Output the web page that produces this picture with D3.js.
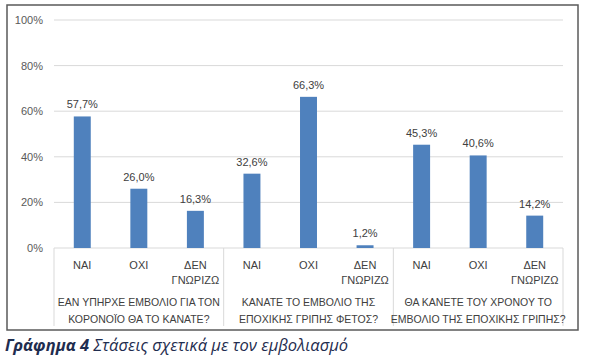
<!DOCTYPE html>
<html><head><meta charset="utf-8">
<script src="https://cdn.jsdelivr.net/npm/d3@7"></script>
<style>body{margin:0;background:#fff;}svg{display:block;}</style>
</head><body>
<script>
const groups = [
  ["ΕΑΝ ΥΠΗΡΧΕ ΕΜΒΟΛΙΟ ΓΙΑ ΤΟΝ", "ΚΟΡΟΝΟΪΟ ΘΑ ΤΟ ΚΑΝΑΤΕ?"],
  ["ΚΑΝΑΤΕ ΤΟ ΕΜΒΟΛΙΟ ΤΗΣ", "ΕΠΟΧΙΚΗΣ ΓΡΙΠΗΣ ΦΕΤΟΣ?"],
  ["ΘΑ ΚΑΝΕΤΕ ΤΟΥ ΧΡΟΝΟΥ ΤΟ", "ΕΜΒΟΛΙΟ ΤΗΣ ΕΠΟΧΙΚΗΣ ΓΡΙΠΗΣ?"]
];
const answers = [["ΝΑΙ"], ["ΟΧΙ"], ["ΔΕΝ", "ΓΝΩΡΙΖΩ"]];
const values = [57.7, 26.0, 16.3, 32.6, 66.3, 1.2, 45.3, 40.6, 14.2];
const yTicks = [0, 20, 40, 60, 80, 100];
const captionBold = "Γράφημα 4";
const captionText = " Στάσεις σχετικά με τον εμβολιασμό";

(function () {
const W = 596, H = 359;
const svg = d3.select("body").append("svg").attr("width", W).attr("height", H);
const font = "'Liberation Sans', Arial, sans-serif";

svg.append("rect").attr("x", 7).attr("y", 5).attr("width", 571).attr("height", 325)
  .attr("fill", "#fff").attr("stroke", "#5a5a5a").attr("stroke-width", 1.5);

const pl = 54, pr = 563, pt = 20, pb = 248;
const keys = d3.range(values.length);
const x = d3.scaleBand().domain(keys).range([pl, pr]).paddingInner(0.7).paddingOuter(0.35);
const xFull = d3.scaleBand().domain(keys).range([pl, pr]);
const y = d3.scaleLinear().domain([0, 100]).range([pb, pt]);

svg.append("g").selectAll("line").data(yTicks).join("line")
  .attr("x1", pl).attr("x2", pr).attr("y1", d => y(d)).attr("y2", d => y(d))
  .attr("stroke", "#d9d9d9").attr("stroke-width", 1);

const yAxis = d3.axisLeft(y).tickValues(yTicks).tickFormat(d => d + "%").tickSize(0).tickPadding(11);
const gy = svg.append("g").attr("transform", `translate(${pl},0)`).call(yAxis);
gy.select(".domain").remove();
gy.selectAll("text").attr("font-family", font).attr("font-size", 11).attr("fill", "#595959");

const sepX = [0, 3, 6].map(i => xFull(i)).concat([pr]);
svg.append("g").selectAll("line").data(sepX).join("line")
  .attr("x1", d => d).attr("x2", d => d).attr("y1", pb).attr("y2", 326)
  .attr("stroke", "#d9d9d9").attr("stroke-width", 1);

svg.append("g").selectAll("rect").data(values).join("rect")
  .attr("x", (d, i) => x(i)).attr("width", x.bandwidth())
  .attr("y", d => y(d)).attr("height", d => pb - y(d))
  .attr("fill", "#4f81bd");

svg.append("g").selectAll("text").data(values).join("text")
  .attr("x", (d, i) => x(i) + x.bandwidth() / 2).attr("y", d => y(d) - 8)
  .attr("text-anchor", "middle").attr("font-family", font).attr("font-size", 11)
  .attr("fill", "#404040").text(d => d.toFixed(1).replace(".", ",") + "%");

keys.forEach(i => {
  const lines = answers[i % 3];
  const t = svg.append("text").attr("text-anchor", "middle").attr("font-family", font)
    .attr("font-size", 11).attr("fill", "#404040");
  lines.forEach((l, j) => t.append("tspan").attr("x", xFull(i) + xFull.bandwidth() / 2)
    .attr("y", 269 + j * 15).text(l));
});

groups.forEach((g, gi) => {
  const cx = (xFull(gi * 3) + xFull(gi * 3 + 2) + xFull.bandwidth()) / 2;
  const t = svg.append("text").attr("text-anchor", "middle").attr("font-family", font)
    .attr("font-size", 10.5).attr("fill", "#404040");
  g.forEach((l, j) => t.append("tspan").attr("x", cx).attr("y", 306 + j * 17).text(l));
});

const cap = svg.append("text").attr("x", 5).attr("y", 351).attr("font-family", "'Open Sans', 'Liberation Sans', sans-serif")
  .attr("font-size", 16.5).attr("font-style", "italic").attr("fill", "#1f2d4f");
cap.append("tspan").attr("font-weight", "bold").text(captionBold);
cap.append("tspan").text(captionText);
})();
</script>
</body></html>
